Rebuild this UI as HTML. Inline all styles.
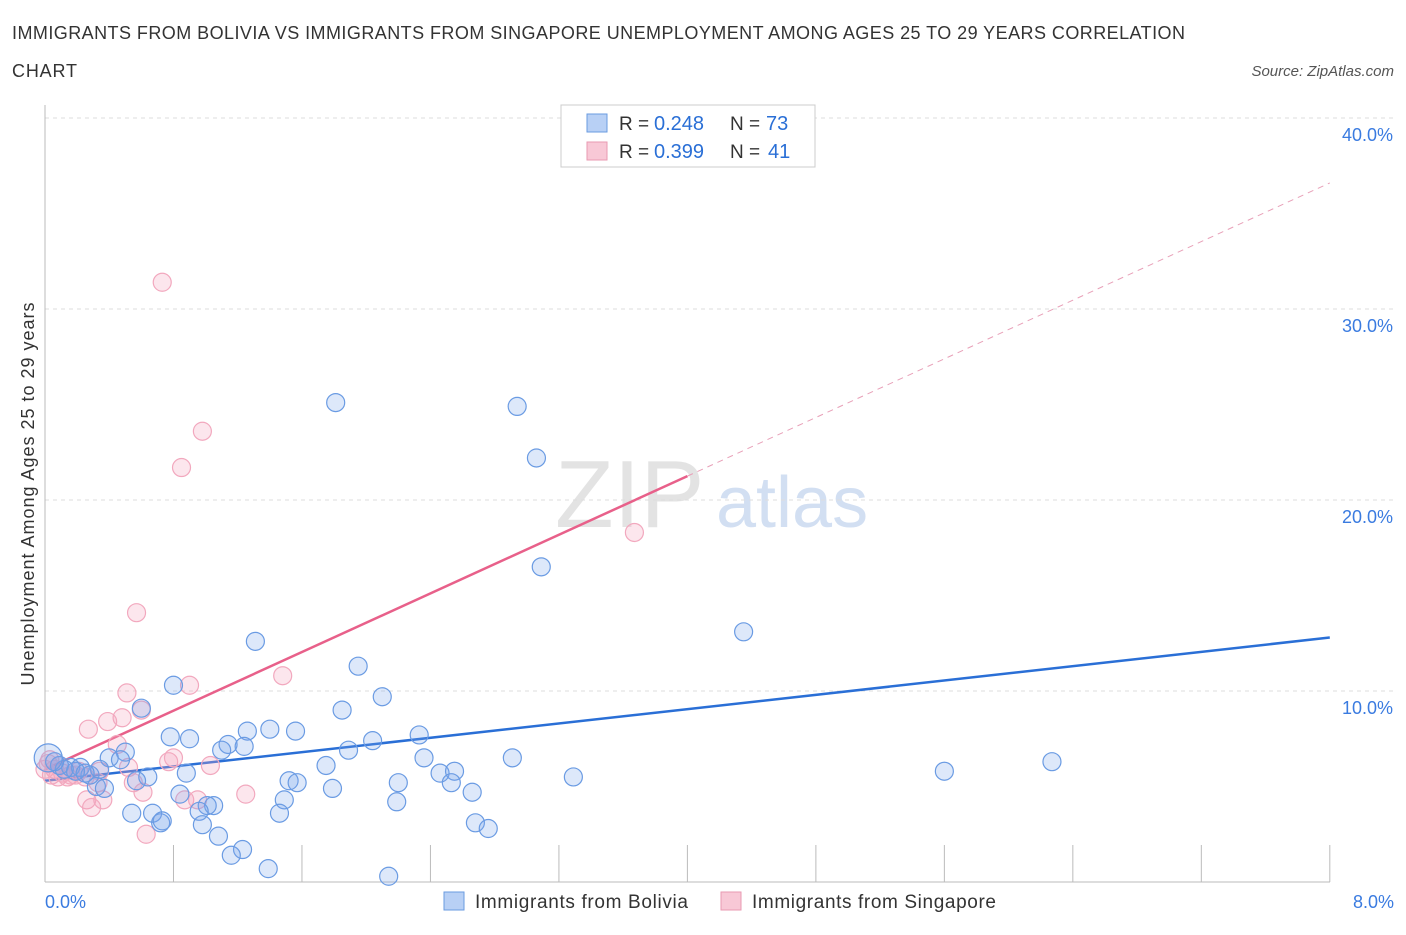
<!DOCTYPE html>
<html><head><meta charset="utf-8"><style>
body{margin:0;background:#fff;font-family:"Liberation Sans",sans-serif;}
svg text{font-family:"Liberation Sans",sans-serif;}
</style></head><body>
<svg id="chart" width="1406" height="930" xmlns="http://www.w3.org/2000/svg">
<text x="12" y="39" font-size="18" fill="#333" textLength="1173" lengthAdjust="spacing">IMMIGRANTS FROM BOLIVIA VS IMMIGRANTS FROM SINGAPORE UNEMPLOYMENT AMONG AGES 25 TO 29 YEARS CORRELATION</text>
<text x="12" y="77" font-size="18" fill="#333" textLength="65" lengthAdjust="spacing">CHART</text>
<text x="1394" y="76" font-size="15" fill="#555" text-anchor="end" font-style="italic">Source: ZipAtlas.com</text>
<text transform="translate(34,494) rotate(-90)" font-size="18" fill="#333" text-anchor="middle" textLength="383" lengthAdjust="spacing">Unemployment Among Ages 25 to 29 years</text>
<text x="555" y="527" font-size="96" fill="#ddd" font-family="Liberation Serif" opacity="0.8">ZIP</text>
<text x="716" y="527" font-size="72" fill="#c8d8f0" opacity="0.8">atlas</text>
<g id="grid"></g><g id="axes"></g><g id="trends"></g><g id="pts"></g>
<g>
<rect x="561" y="105" width="254" height="62" fill="#fff" stroke="#ccc"/>
<rect x="587" y="114" width="20" height="18" fill="#b8d0f5" stroke="#6a9be0"/>
<text x="619" y="130" font-size="19" fill="#333">R =</text><text x="654" y="130" font-size="20" fill="#2a6fd6">0.248</text>
<text x="730" y="130" font-size="19" fill="#333">N =</text><text x="766" y="130" font-size="20" fill="#2a6fd6">73</text>
<rect x="587" y="142" width="20" height="18" fill="#f8c8d6" stroke="#e89ab2"/>
<text x="619" y="158" font-size="19" fill="#333">R =</text><text x="654" y="158" font-size="20" fill="#2a6fd6">0.399</text>
<text x="730" y="158" font-size="19" fill="#333">N =</text><text x="768" y="158" font-size="20" fill="#2a6fd6">41</text>
</g>
<g>
<rect x="444" y="892" width="20" height="18" fill="#b8d0f5" stroke="#6a9be0"/>
<text x="475" y="908" font-size="19" fill="#333" textLength="213" lengthAdjust="spacing">Immigrants from Bolivia</text>
<rect x="721" y="892" width="20" height="18" fill="#f8c8d6" stroke="#e89ab2"/>
<text x="752" y="908" font-size="19" fill="#333" textLength="244" lengthAdjust="spacing">Immigrants from Singapore</text>
</g>
</svg>
<script>
const yTicks=[10,20,30,40];
const yTickLabels=["10.0%","20.0%","30.0%","40.0%"];
const xTickLabels=["0.0%","8.0%"];
const blueX=[1.81,2.94,3.06,3.09,4.35,1.31,1.95,0.80,2.10,0.60,1.85,2.33,2.04,1.56,1.40,1.26,0.78,0.90,1.14,1.24,1.10,1.89,0.50,0.40,0.47,2.36,2.91,1.75,6.27,5.60,3.29,2.46,2.55,0.88,0.64,0.57,1.52,1.57,2.20,2.53,1.79,0.32,0.37,2.66,0.84,1.49,2.19,1.05,1.01,0.96,1.46,0.54,0.67,0.72,0.73,0.98,2.68,2.76,1.08,1.23,1.16,1.39,2.14,0.09,0.16,0.22,0.28,0.19,0.12,0.06,0.34,0.25,0.02];
const blueY=[25.1,24.9,22.2,16.5,13.1,12.6,11.3,10.3,9.7,9.1,9.0,7.7,7.4,7.9,8.0,7.9,7.6,7.5,7.2,7.1,6.9,6.9,6.8,6.5,6.4,6.5,6.5,6.1,6.3,5.8,5.5,5.7,5.8,5.7,5.5,5.3,5.3,5.2,5.2,5.2,4.9,5.0,4.9,4.7,4.6,4.3,4.2,4.0,4.0,3.7,3.6,3.6,3.6,3.1,3.2,3.0,3.1,2.8,2.4,1.7,1.4,0.7,0.3,6.1,6.0,6.0,5.6,5.8,5.9,6.3,5.9,5.7,6.5];
const pinkX=[0.73,0.98,0.85,3.67,0.57,1.48,0.90,0.51,0.60,0.48,0.39,0.27,0.45,0.80,0.77,1.03,0.52,0.34,0.55,0.33,0.61,1.25,0.87,0.95,0.36,0.26,0.29,0.63,0.03,0.06,0.11,0.16,0.21,0.09,0.25,0.00,0.04,0.14,0.19,0.08,0.02];
const pinkY=[31.4,23.6,21.7,18.3,14.1,10.8,10.3,9.9,9.0,8.6,8.4,8.0,7.2,6.5,6.3,6.1,6.0,5.8,5.2,5.2,4.7,4.6,4.3,4.3,4.3,4.3,3.9,2.5,6.4,5.9,5.7,5.6,5.8,6.1,5.5,5.9,5.6,5.5,5.6,5.5,6.2];
const blueTrend=[5.3,12.8];
const pinkTrend=[5.9,36.6];
const NS="http://www.w3.org/2000/svg";
const X=v=>45+v*160.6, Y=v=>882-v*19.1;
function mk(t,a,p){const e=document.createElementNS(NS,t);for(const k in a)e.setAttribute(k,a[k]);document.getElementById(p).appendChild(e);return e;}
yTicks.forEach((t,i)=>{
 const l=mk('line',{x1:45,x2:1394,y1:Y(t),y2:Y(t),stroke:'#ddd','stroke-dasharray':'4,4'},'grid');
 
 
 const tx=mk('text',{x:1393,y:Y(t)+23,'font-size':18,fill:'#3a7be0','text-anchor':'end'},'grid');
 tx.textContent=yTickLabels[i];
 
 
});
const ax=mk('line',{x1:45,x2:45,y1:105,y2:882,stroke:'#bbb'},'axes');


const bx=mk('line',{x1:45,x2:1330,y1:882,y2:882,stroke:'#bbb'},'axes');


for(let i=0;i<=10;i++){
 const t=mk('line',{x1:X(i*0.8),x2:X(i*0.8),y1:845,y2:882,stroke:'#bbb'},'axes');
 
 
}
[[0,'start',45],[8,'end',1394]].forEach((d,i)=>{
 const t=mk('text',{x:d[2],y:908,'font-size':18,fill:'#3a7be0','text-anchor':d[1]},'axes');
 t.textContent=xTickLabels[i];
 
 
});
const bt=mk('line',{x1:X(0),y1:Y(blueTrend[0]),x2:X(8),y2:Y(blueTrend[1]),stroke:'#2a6fd6','stroke-width':2.5},'trends');


const pe=4.0, pm=pinkTrend[0]+(pinkTrend[1]-pinkTrend[0])*pe/8;
const pt=mk('line',{x1:X(0),y1:Y(pinkTrend[0]),x2:X(pe),y2:Y(pm),stroke:'#e8608a','stroke-width':2.5},'trends');


const pd=mk('line',{x1:X(pe),y1:Y(pm),x2:X(8),y2:Y(pinkTrend[1]),stroke:'#e8a0b8','stroke-width':1,'stroke-dasharray':'6,5'},'trends');


pinkX.forEach((x,i)=>{
 const c=mk('circle',{cx:X(x),cy:Y(pinkY[i]),r:9,fill:'rgba(245,165,190,0.28)',stroke:'#f2a8be','stroke-width':1.2},'pts');
 
 
});
blueX.forEach((x,i)=>{
 const c=mk('circle',{cx:X(x),cy:Y(blueY[i]),r:(i==blueX.length-1?14:9),fill:'rgba(120,165,235,0.25)',stroke:'#6a9be3','stroke-width':1.2},'pts');
 
 
});
</script>
</body></html>
